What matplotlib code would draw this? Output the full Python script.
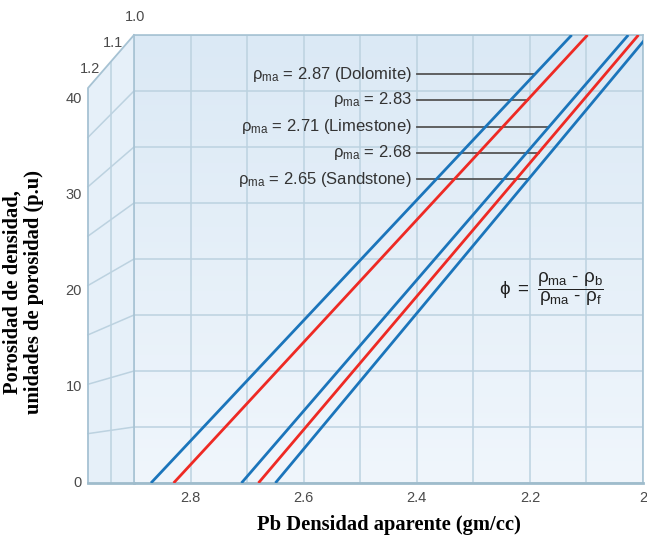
import matplotlib
matplotlib.use("Agg")
import matplotlib.pyplot as plt
import numpy as np
from matplotlib.patches import Polygon
from matplotlib.ticker import MultipleLocator, FixedLocator, FixedFormatter

# ---------------------------------------------------------------------------
# Data
# ---------------------------------------------------------------------------
# matrix density (porosity 0 at rho_b = rho_ma) and rho_b where each line hits 40 p.u.
RHO_MA = [2.87, 2.83, 2.71, 2.68, 2.65]
RHO_B_TOP = [2.126, 2.098, 2.026, 2.008, 1.990]
PHI_TOP = 40
LABELS = [
    r"$\rho_{ma}$ = 2.87 (Dolomite)",
    r"$\rho_{ma}$ = 2.83",
    r"$\rho_{ma}$ = 2.71 (Limestone)",
    r"$\rho_{ma}$ = 2.68",
    r"$\rho_{ma}$ = 2.65 (Sandstone)",
]
LABEL_PHI = [36.5, 34.2, 31.8, 29.5, 27.1]   # porosity where each leader line sits
X_TICKS = [2.8, 2.6, 2.4, 2.2, 2.0]
X_TICK_LABELS = ["2.8", "2.6", "2.4", "2.2", "2"]
PHI_TICKS = [0, 10, 20, 30, 40]
FLUID_LABELS = ["1.0", "1.1", "1.2"]

# ---------------------------------------------------------------------------
# Style
# ---------------------------------------------------------------------------
BLUE = "#1b75bb"
RED = "#ee2a24"
LINE_COLORS = [BLUE, RED, BLUE, RED, BLUE]
GRID = "#bcd2e0"
EDGE = "#a6c2d3"
TXT = "#4a4a4a"

plt.rcParams.update({
    "font.family": ["Liberation Sans", "DejaVu Sans"],
    "mathtext.fontset": "custom",
    "mathtext.rm": "Liberation Sans",
    "mathtext.it": "Liberation Sans:italic",
    "mathtext.default": "regular",
})

W, H = 647, 540
fig = plt.figure(figsize=(W / 100, H / 100), dpi=100)
fig.patch.set_facecolor("white")

# main plotting area in pixel terms
X0, X1, Y0, Y1 = 134, 643, 35, 483
ax = fig.add_axes([X0 / W, 1 - Y1 / H, (X1 - X0) / W, (Y1 - Y0) / H])
ax.set_xlim(2.9, 2.0)
ax.set_ylim(0, PHI_TOP)

# background gradient
grad = np.linspace(0, 1, 256).reshape(-1, 1)
cmap_bg = matplotlib.colors.LinearSegmentedColormap.from_list("bg", ["#dbe9f5", "#f0f6fc"])
ax.imshow(grad, extent=[0, 1, 0, 1], transform=ax.transAxes, aspect="auto",
          cmap=cmap_bg, zorder=0, origin="upper")

# grid
ax.xaxis.set_major_locator(FixedLocator(X_TICKS))
ax.xaxis.set_major_formatter(FixedFormatter(X_TICK_LABELS))
ax.xaxis.set_minor_locator(MultipleLocator(0.1))
ax.yaxis.set_major_locator(MultipleLocator(5))
ax.set_yticklabels([])
ax.grid(True, which="both", color=GRID, linewidth=1.1, zorder=1)
ax.set_axisbelow(True)
ax.tick_params(which="both", length=0)
ax.tick_params(axis="x", pad=6, labelsize=10.5, labelcolor=TXT)
for s in ("top", "right", "left"):
    ax.spines[s].set_color(EDGE)
    ax.spines[s].set_linewidth(1.2)
ax.spines["bottom"].set_color("#9fbccc")
ax.spines["bottom"].set_linewidth(2)

# ---------------------------------------------------------------------------
# Left "3D" wall
# ---------------------------------------------------------------------------
WX_L = (88 - X0) / (X1 - X0)
WX_M = (111 - X0) / (X1 - X0)
K = (Y1 - 88) / (Y1 - Y0)          # height of the wall's front edge
K_M = K + (1 - K) * (1 - WX_M / WX_L)  # height at the inner line

wall = Polygon([(WX_L, 0), (0, 0), (0, 1), (WX_L, K)], closed=True,
               transform=ax.transAxes, clip_on=False, facecolor="#e6f0f9",
               edgecolor="none", zorder=0.4)
ax.add_patch(wall)
wgrad = np.tile(np.concatenate([np.linspace(0, 1, 64), np.linspace(0, 1, 64)]), (2, 1))
cmap_w = matplotlib.colors.LinearSegmentedColormap.from_list("w", ["#f1f7fc", "#d8e8f5"])
im = ax.imshow(wgrad, extent=[WX_L, 0, 0, 1], transform=ax.transAxes, aspect="auto",
               cmap=cmap_w, zorder=0.5)
im.set_clip_path(wall)
im.set_clip_box(None)

for v in range(5, PHI_TOP, 5):
    ax.plot([WX_L, 0], [v / PHI_TOP * K, v / PHI_TOP], transform=ax.transAxes,
            color=GRID, lw=1.1, clip_on=False, zorder=1)
ax.plot([WX_M, WX_M], [0, K_M], transform=ax.transAxes, color=GRID, lw=1.1,
        clip_on=False, zorder=1)
ax.plot([WX_L, WX_L, 0], [0, K, 1], transform=ax.transAxes, color=EDGE, lw=1.3,
        clip_on=False, zorder=2)
ax.plot([WX_L, 0], [0, 0], transform=ax.transAxes, color="#9fbccc", lw=2,
        clip_on=False, zorder=2)

for v in PHI_TICKS:
    ax.text(-0.102, v * 9.6 / (Y1 - Y0), str(v), transform=ax.transAxes,
            ha="right", va="center", fontsize=10.5, color=TXT)

for i, (lab, fx) in enumerate(zip(FLUID_LABELS, [0.0, WX_M, WX_L])):
    fy = 1.04 - i * 0.058
    ax.text(fx + 0.003, fy, lab, transform=ax.transAxes, ha="center", va="center",
            fontsize=10.5, color=TXT)

# ---------------------------------------------------------------------------
# Porosity lines and labels
# ---------------------------------------------------------------------------
for rma, rtop, c in zip(RHO_MA, RHO_B_TOP, LINE_COLORS):
    ax.plot([rma, rtop], [0, PHI_TOP], color=c, lw=2.0, zorder=4,
            solid_capstyle="butt")

for rma, rtop, lab, phi in zip(RHO_MA, RHO_B_TOP, LABELS, LABEL_PHI):
    x_end = np.interp(phi, [0, PHI_TOP], [rma, rtop])
    ax.plot([2.40, x_end], [phi, phi], color="#555555", lw=1.3, zorder=3)
    ax.text(2.409, phi, lab, ha="right", va="center", fontsize=12, color="#333333",
            zorder=5)

ax.text(2.162, 17.3,
        "$\\phi\\ =\\ \\dfrac{\\rho_{ma}\\ \u2010\\ \\rho_b}{\\rho_{ma}\\ \u2010\\ \\rho_f}$",
        ha="center", va="center", fontsize=13.5, color="#222222", zorder=5)

# axis titles
fig.text(0.601, 1 - 525 / H, "Pb Densidad aparente (gm/cc)", ha="center", va="center",
         fontsize=14.8, fontweight="bold", family="Liberation Serif")
fig.text(0.036, 1 - 292 / H, "Porosidad de densidad,\nunidades de porosidad (p.u)",
         ha="center", va="center", rotation=90, fontsize=14.8, fontweight="bold",
         family="Liberation Serif", linespacing=1.1)

fig.savefig("out.png", dpi=100)
